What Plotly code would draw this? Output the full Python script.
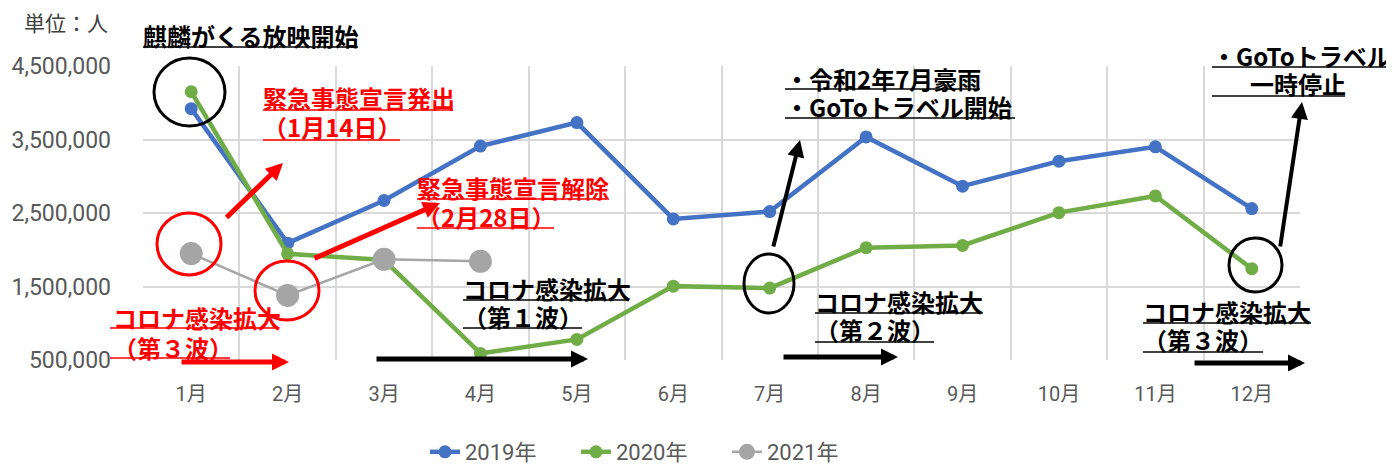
import plotly.graph_objects as go

# ---------------- data ----------------
months = ["1月", "2月", "3月", "4月", "5月", "6月", "7月", "8月", "9月", "10月", "11月", "12月"]
visitors_2019 = [3920000, 2090000, 2670000, 3410000, 3730000, 2420000, 2520000, 3535000, 2865000, 3205000, 3400000, 2560000]
visitors_2020 = [4150000, 1945000, 1860000, 590000, 780000, 1505000, 1478000, 2028000, 2058000, 2505000, 2732000, 1742000]
visitors_2021 = [1948000, 1379000, 1870000, 1842000]
series_names = ["2019年", "2020年", "2021年"]
y_ticks = [500000, 1500000, 2500000, 3500000, 4500000]

# ---------------- layout helpers (page pixel -> paper) ----------------
OFF = 8  # default body margin of the html page
W, H = 1394 - OFF, 465 - OFF
ML, MR, MT, MB = 143 - OFF, 94, 66 - OFF, 105
PW, PH = W - ML - MR, H - MT - MB


def px(x):
    return (x - OFF - ML) / PW


def py(y):
    return (H - MB - (y - OFF)) / PH


FONT = "Noto Sans CJK JP"
NUMFONT = "Roboto, Noto Sans CJK JP"
RED = "#FF0000"
BLACK = "#000000"

fig = go.Figure()
fig.add_trace(go.Scatter(x=months, y=visitors_2019, name=series_names[0], mode="lines+markers",
                         line=dict(color="#4472C4", width=4.5), marker=dict(size=13, color="#4472C4")))
fig.add_trace(go.Scatter(x=months, y=visitors_2020, name=series_names[1], mode="lines+markers",
                         line=dict(color="#70AD47", width=4.5), marker=dict(size=13, color="#70AD47")))
fig.add_trace(go.Scatter(x=months[:len(visitors_2021)], y=visitors_2021, name=series_names[2], mode="lines+markers",
                         line=dict(color="#A5A5A5", width=2.5), marker=dict(size=23, color="#A5A5A5")))

shapes = []
annotations = []


def text(t, x, y, color=BLACK, size=24, bold=True, family=FONT):
    annotations.append(dict(text=("<b>%s</b>" % t) if bold else t, x=px(x), y=py(y), xref="paper", yref="paper",
                            xanchor="left", yanchor="middle", showarrow=False,
                            font=dict(family=family, size=size, color=color)))


def uline(x0, x1, y, color=BLACK):
    shapes.append(dict(type="line", xref="paper", yref="paper", x0=px(x0), x1=px(x1), y0=py(y), y1=py(y),
                       line=dict(color=color, width=1.5)))


def ellipse(x0, x1, y0, y1, color=BLACK):
    shapes.append(dict(type="circle", xref="paper", yref="paper", x0=px(x0), x1=px(x1), y0=py(y1), y1=py(y0),
                       line=dict(color=color, width=3)))


def arrow(tx, ty, hx, hy, color=BLACK, width=5):
    annotations.append(dict(text="", x=px(hx), y=py(hy), xref="paper", yref="paper",
                            ax=tx - hx, ay=ty - hy, axref="pixel", ayref="pixel",
                            showarrow=True, arrowhead=2, arrowsize=3.4 / width, arrowwidth=width,
                            arrowcolor=color, standoff=0, startstandoff=0))


# unit label
text("単位：人", 22, 22, color="#404040", size=21, bold=False)

# 麒麟がくる
text("麒麟がくる放映開始", 141, 35)
uline(143, 358, 47)

# 緊急事態宣言発出
text("緊急事態宣言発出", 261, 97, RED)
uline(263, 453, 110, RED)
text("（1月14日）", 261, 126, RED)
uline(263, 400, 140, RED)

# 緊急事態宣言解除
text("緊急事態宣言解除", 415, 187, RED)
uline(417, 609, 199, RED)
text("（2月28日）", 415, 216, RED)
uline(417, 554, 228, RED)

# 第1波
text("コロナ感染拡大", 461, 288)
uline(463, 629, 300)
text("（第１波）", 461, 316)
uline(463, 582, 328)

# 令和2年7月豪雨 / GoTo開始
text("・令和2年7月豪雨", 783, 78)
uline(785, 980, 89)
text("・GoToトラベル開始", 783, 106)
uline(785, 1015, 118)

# 第2波
text("コロナ感染拡大", 813, 301)
uline(815, 983, 313)
text("（第２波）", 813, 329)
uline(815, 934, 342)

# GoTo一時停止
text("・GoToトラベル", 1210, 56)
uline(1212, 1394, 67)
text("一時停止", 1248, 84)
uline(1212, 1345, 96)

# 第3波 (black)
text("コロナ感染拡大", 1141, 311)
uline(1143, 1311, 323)
text("（第３波）", 1141, 339)
uline(1143, 1263, 352)

# 第3波 (red)
text("コロナ感染拡大", 111, 317, RED)
uline(110, 278, 328, RED)
text("（第３波）", 111, 347, RED)
uline(110, 230, 358, RED)

# circles
ellipse(154, 225, 58, 126)
ellipse(157, 221, 213, 275, RED)
ellipse(255, 319, 261, 320, RED)
ellipse(744, 794, 254, 313)
ellipse(1229, 1282, 238, 292)

# arrows
arrow(225, 219, 283, 163, RED, 5)
arrow(313, 259, 440, 203, RED, 5)
arrow(180, 362, 289, 362, RED, 5)
arrow(375, 359, 588, 359, BLACK, 5)
arrow(773, 248, 800, 140, BLACK, 4)
arrow(782, 357, 898, 357, BLACK, 5)
arrow(1280, 248, 1302, 102, BLACK, 4)
arrow(1193, 363, 1305, 363, BLACK, 5)

fig.update_layout(
    width=W, height=H,
    margin=dict(l=ML, r=MR, t=MT, b=MB, autoexpand=False),
    paper_bgcolor="white", plot_bgcolor="white",
    font=dict(family=FONT, color="#595959"),
    showlegend=True,
    legend=dict(orientation="h", x=px(425), y=py(452), xanchor="left", yanchor="middle",
                entrywidth=106, entrywidthmode="pixels",
                font=dict(family=NUMFONT, size=22, color="#595959"), bgcolor="rgba(0,0,0,0)"),
    shapes=shapes,
    annotations=annotations,
    hovermode=False,
)
fig.update_xaxes(type="category", tickson="boundaries", showgrid=True, gridcolor="#D9D9D9", gridwidth=2,
                 range=[-0.5, 11.5], ticks="", showline=False, zeroline=False, automargin=False,
                 tickfont=dict(family=NUMFONT, size=20, color="#595959"), ticklabelstandoff=20)
fig.update_yaxes(range=[500000, 4500000], tickvals=y_ticks, tickformat=",d", showgrid=True,
                 gridcolor="#D9D9D9", gridwidth=2, zeroline=False, showline=False, ticks="", automargin=False,
                 tickfont=dict(family=NUMFONT, size=23, color="#595959"), ticklabelstandoff=31)

fig.write_html("out.html")
